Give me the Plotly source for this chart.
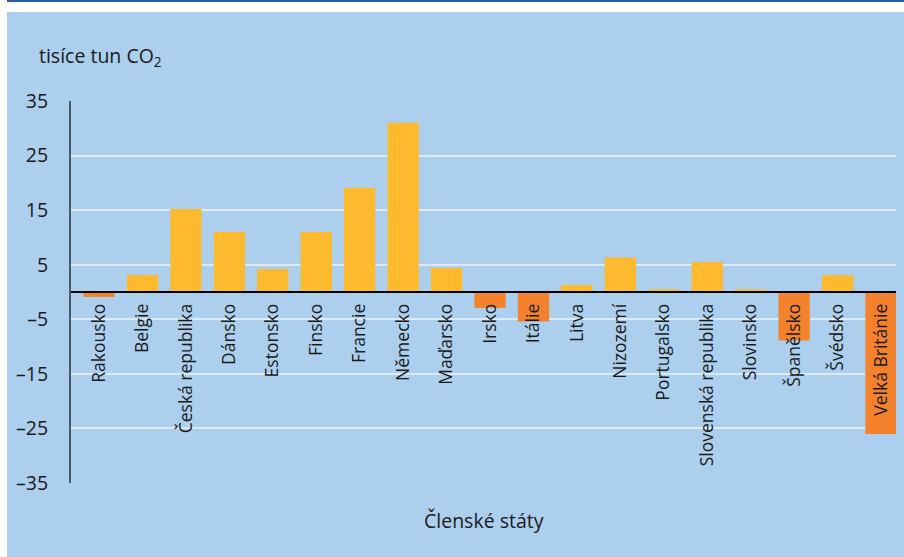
import plotly.graph_objects as go

countries = ["Rakousko", "Belgie", "Česká republika", "Dánsko", "Estonsko", "Finsko",
             "Francie", "Německo", "Maďarsko", "Irsko", "Itálie", "Litva", "Nizozemí",
             "Portugalsko", "Slovenská republika", "Slovinsko", "Španělsko", "Švédsko",
             "Velká Británie"]
values = [-0.9, 3.1, 15.2, 11.0, 4.2, 11.0, 19.1, 31.0, 4.4, -2.9, -5.4, 1.3, 6.3,
          0.5, 5.5, 0.5, -8.9, 3.1, -26.0]
ytick_vals = [35, 25, 15, 5, -5, -15, -25, -35]
ytick_text = ["35", "25", "15", "5", "–5", "–15", "–25", "–35"]
y_title = "tisíce tun CO<sub>2</sub>"
x_title = "Členské státy"

YELLOW = "#FDBA2F"
ORANGE = "#F4822D"
BG = "#ABCFEC"
FONT = "Open Sans"

colors = [ORANGE if v < 0 else YELLOW for v in values]

fig = go.Figure(go.Bar(x=list(range(len(countries))), y=values, marker_color=colors,
                       marker_line_width=0, width=0.72, hoverinfo="skip"))

W, H = 904, 557
L, R, T, B = 71, 8, 101, 74
pw, ph = W - L - R, H - T - B

def px_x(px):
    return (px - L) / pw

def px_y(py):
    return (H - B - py) / ph

fig.update_layout(
    width=W, height=H,
    margin=dict(l=L, r=R, t=T, b=B, pad=0, autoexpand=False),
    paper_bgcolor=BG, plot_bgcolor="rgba(0,0,0,0)",
    showlegend=False,
    font=dict(family=FONT, color="#1a1a1a", size=17),
    xaxis=dict(
        tickmode="array", tickvals=list(range(len(countries))), ticktext=countries,
        range=[-0.645, 18.345], tickangle=-90, showgrid=False, zeroline=False,
        anchor="free", position=0.5, showline=True, linecolor="#000000", linewidth=1.5,
        ticks="", ticklabelstandoff=4, tickfont=dict(size=17.5, family=FONT),
        automargin=False,
    ),
    yaxis=dict(
        range=[-35, 35], tickmode="array", tickvals=ytick_vals, ticktext=ytick_text,
        showgrid=True, gridcolor="#DDEAF6", gridwidth=2, zeroline=False,
        showline=True, linecolor="#4B5A68", linewidth=2, ticks="",
        ticklabelstandoff=17, tickfont=dict(size=19.5, family=FONT),
        automargin=False,
    ),
    shapes=[
        dict(type="rect", xref="paper", yref="paper", x0=px_x(-5), x1=px_x(W + 5),
             y0=px_y(12), y1=px_y(-5), fillcolor="white", line_width=0, layer="above"),
        dict(type="rect", xref="paper", yref="paper", x0=px_x(-5), x1=px_x(7),
             y0=px_y(H + 5), y1=px_y(-5), fillcolor="white", line_width=0, layer="above"),
        dict(type="rect", xref="paper", yref="paper", x0=px_x(7), x1=px_x(W + 5),
             y0=px_y(2), y1=px_y(0), fillcolor="#2F5DA6", line_width=0, layer="above"),
    ],
    annotations=[
        dict(text=y_title, xref="paper", yref="paper", x=px_x(37), y=px_y(57),
             xanchor="left", yanchor="middle", showarrow=False,
             font=dict(size=19.5, family=FONT)),
        dict(text=x_title, xref="paper", yref="paper", x=0.5, y=px_y(520),
             xanchor="center", yanchor="middle", showarrow=False,
             font=dict(size=19.5, family=FONT)),
    ],
)

fig.write_html("out.html", config={"displayModeBar": False},
               post_script="document.body.style.margin='0';document.body.style.overflow='hidden';")
